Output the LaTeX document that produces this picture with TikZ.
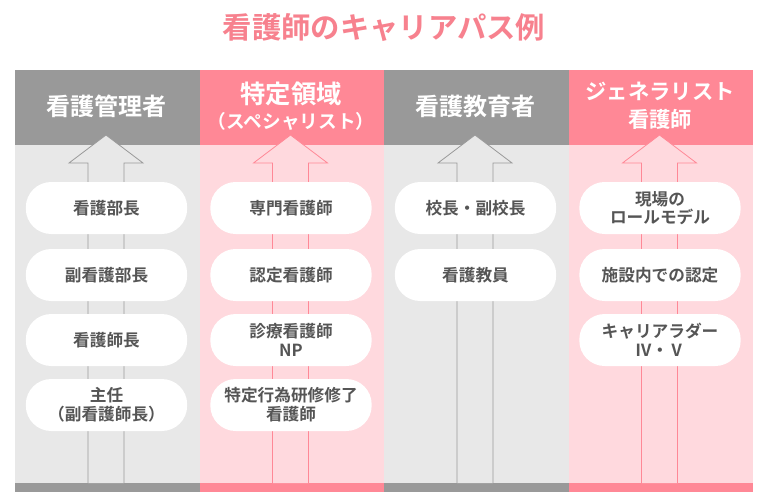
\documentclass[tikz,border=0pt]{standalone}
\usepackage{fontspec}
\setmainfont{Noto Sans CJK JP}[BoldFont={* Bold}]
\definecolor{darkgray}{HTML}{999999}
\definecolor{lightgray}{HTML}{E8E8E8}
\definecolor{darkpink}{HTML}{FF8896}
\definecolor{lightpink}{HTML}{FFD9DE}
\definecolor{textgray}{HTML}{555555}
\definecolor{titlepink}{HTML}{F7818E}
\newcommand{\fsz}[1]{\fontsize{#1}{#1}\selectfont}
\tikzset{
  pill/.style={fill=white, rounded corners=19pt, minimum width=121pt,
    minimum height=39pt, align=center, font=\bfseries\fontsize{12.5}{14}\selectfont,
    text=textgray, inner sep=0pt},
  header/.style={align=center, text=white,
    font=\bfseries\fontsize{18}{22}\selectfont}
}
\begin{document}
\begin{tikzpicture}[x=0.75pt, y=-0.75pt]
    \useasboundingbox (0,0) rectangle (770,500);
    \fill[white] (0,0) rectangle (770,500);
    \node[text=titlepink, font=\bfseries\fontsize{22}{24}\selectfont] (title) at (384,28) {看護師のキャリアパス例};

    % Columns
    \foreach \i/\dark/\light in {0/darkgray/lightgray, 1/darkpink/lightpink,
                                 2/darkgray/lightgray, 3/darkpink/lightpink} {
      \pgfmathsetmacro{\xl}{15+184.5*\i}
      \pgfmathsetmacro{\xc}{\xl+91}
      \fill[\dark] (\xl,70) rectangle ++(184.5,75);
      \fill[\light] (\xl,145) rectangle ++(184.5,338);
      \fill[\dark] (\xl,483) rectangle ++(184.5,9);
      \draw[\dark, fill=\light, semithick]
        (\xc-18,483) -- (\xc-18,163) -- (\xc-37,163) -- (\xc,135)
        -- (\xc+37,163) -- (\xc+18,163) -- (\xc+18,483);
      \coordinate (c\i) at (\xc+0.5,0);
    }

    % Headers
    \node[header] (h0) at (c0 |- 0,106) {看護管理者};
    \node[header, font=\bfseries] (h1) at (c1 |- 0,106)
      {{\fsz{19}特定領域}\\[4pt]{\fsz{14}（スペシャリスト）}};
    \node[header] (h2) at (c2 |- 0,106) {看護教育者};
    \node[header, font=\bfseries\fontsize{16}{21}\selectfont] (h3) at (c3 |- 0,106)
      {ジェネラリスト\\看護師};

    % Pills
    \node[pill] (a1) at (c0 |- 0,208) {看護部長};
    \node[pill] (a2) at (c0 |- 0,275) {副看護部長};
    \node[pill] (a3) at (c0 |- 0,340) {看護師長};
    \node[pill] (a4) at (c0 |- 0,405) {主任\\（副看護師長）};

    \node[pill] (b1) at (c1 |- 0,208) {専門看護師};
    \node[pill] (b2) at (c1 |- 0,275) {認定看護師};
    \node[pill] (b3) at (c1 |- 0,340) {診療看護師\\NP};
    \node[pill] (b4) at (c1 |- 0,405) {特定行為研修修了\\看護師};

    \node[pill] (d1) at (c2 |- 0,208) {校長・副校長};
    \node[pill] (d2) at (c2 |- 0,275) {看護教員};

    \node[pill] (e1) at (c3 |- 0,208) {現場の\\ロールモデル};
    \node[pill] (e2) at (c3 |- 0,275) {施設内での認定};
    \node[pill] (e3) at (c3 |- 0,340) {キャリアラダー\\Ⅳ・Ⅴ};
\end{tikzpicture}
\end{document}
